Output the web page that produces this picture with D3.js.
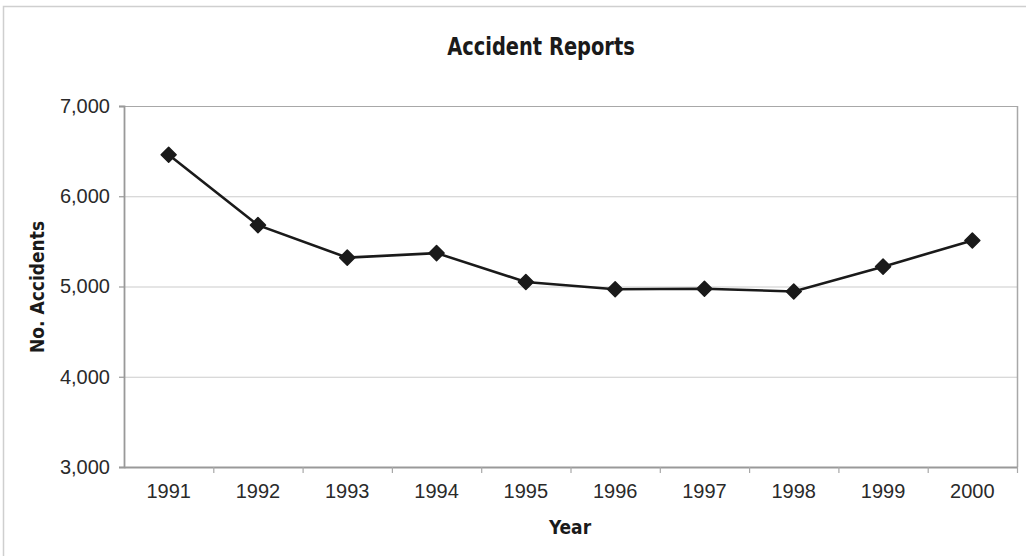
<!DOCTYPE html>
<html>
<head>
  <meta charset="utf-8">
  <script src="https://d3js.org/d3.v7.min.js"></script>
  <style>
    body { margin: 0; background: #fff; }
    svg { display: block; }
  </style>
</head>
<body>
  <svg width="1026" height="556"></svg>
  <script>
    // data
    var years = ["1991", "1992", "1993", "1994", "1995", "1996", "1997", "1998", "1999", "2000"];
    var accidents = [6460, 5680, 5320, 5370, 5050, 4970, 4975, 4945, 5220, 5510];
    var yTicks = [3000, 4000, 5000, 6000, 7000];

    var svg = d3.select("svg");
    var plotLeft = 124, plotRight = 1017, plotTop = 106, plotBottom = 467;

    // outer frame (left and top edges visible)
    svg.append("path")
      .attr("d", "M3.5,556 V6.5 H1026")
      .attr("fill", "none")
      .attr("stroke", "#cfcfcf")
      .attr("stroke-width", 1.5);

    var x = d3.scaleBand().domain(years).range([plotLeft, plotRight]);
    var y = d3.scaleLinear().domain([3000, 7000]).range([plotBottom, plotTop]);

    // gridlines
    svg.append("g")
      .selectAll("line")
      .data(yTicks.slice(1))
      .enter()
      .append("line")
      .attr("x1", plotLeft).attr("x2", plotRight)
      .attr("y1", function(d) { return y(d) + 0.5; })
      .attr("y2", function(d) { return y(d) + 0.5; })
      .attr("stroke", function(d) { return d == 7000 ? "#a8a8a8" : "#cccccc"; })
      .attr("stroke-width", 1.2);

    // right border of plot
    svg.append("line")
      .attr("x1", plotRight + 0.5).attr("x2", plotRight + 0.5)
      .attr("y1", plotTop).attr("y2", plotBottom)
      .attr("stroke", "#a8a8a8").attr("stroke-width", 1.5);

    // y axis
    var yAxis = svg.append("g")
      .attr("transform", "translate(" + plotLeft + ",0)")
      .call(d3.axisLeft(y).tickValues(yTicks).tickSize(5).tickPadding(9)
        .tickFormat(d3.format(",")));

    // x axis, ticks on band boundaries
    var xAxis = svg.append("g")
      .attr("transform", "translate(0," + plotBottom + ")")
      .call(d3.axisBottom(x).tickSize(0).tickPadding(17));
    xAxis.selectAll(".bound")
      .data(years)
      .enter()
      .append("line")
      .attr("class", "bound")
      .attr("x1", function(d) { return x(d) + x.step() + 0.5; })
      .attr("x2", function(d) { return x(d) + x.step() + 0.5; })
      .attr("y1", 0).attr("y2", 6)
      .attr("stroke", "#a8a8a8").attr("stroke-width", 1.2);

    [yAxis, xAxis].forEach(function(a) {
      a.select(".domain").attr("stroke", "#999").attr("stroke-width", 1.8);
      a.selectAll(".tick line").attr("stroke", "#999").attr("stroke-width", 1.2);
      a.selectAll("text")
        .attr("font-family", "'Liberation Sans', Arial, sans-serif")
        .attr("font-size", "20px")
        .attr("fill", "#2a2a2a");
    });

    // line and markers
    var pts = years.map(function(d, i) { return [x(d) + x.bandwidth() / 2, y(accidents[i])]; });

    svg.append("path")
      .datum(pts)
      .attr("fill", "none")
      .attr("stroke", "#1a1a1a")
      .attr("stroke-width", 2.6)
      .attr("d", d3.line());

    svg.append("g")
      .selectAll("path")
      .data(pts)
      .enter()
      .append("path")
      .attr("transform", function(d) { return "translate(" + d[0] + "," + d[1] + ")"; })
      .attr("d", "M0,-7.5 L7.5,0 L0,7.5 L-7.5,0 Z")
      .attr("fill", "#1a1a1a")
      .attr("stroke", "#1a1a1a")
      .attr("stroke-linejoin", "round")
      .attr("stroke-width", 1.5);

    // titles
    var condensed = "'DejaVu Sans Condensed', sans-serif";

    svg.append("text")
      .attr("transform", "translate(541,55) scale(0.9,1)")
      .attr("text-anchor", "middle")
      .attr("font-family", condensed)
      .attr("font-weight", "bold")
      .attr("font-size", "24px")
      .attr("fill", "#1a1a1a")
      .text("Accident Reports");

    svg.append("text")
      .attr("x", 570).attr("y", 534)
      .attr("text-anchor", "middle")
      .attr("font-family", condensed)
      .attr("font-weight", "bold")
      .attr("font-size", "19px")
      .attr("fill", "#1a1a1a")
      .text("Year");

    svg.append("text")
      .attr("transform", "translate(44,287) rotate(-90)")
      .attr("text-anchor", "middle")
      .attr("font-family", condensed)
      .attr("font-weight", "bold")
      .attr("font-size", "19px")
      .attr("fill", "#1a1a1a")
      .text("No. Accidents");
  </script>
</body>
</html>
